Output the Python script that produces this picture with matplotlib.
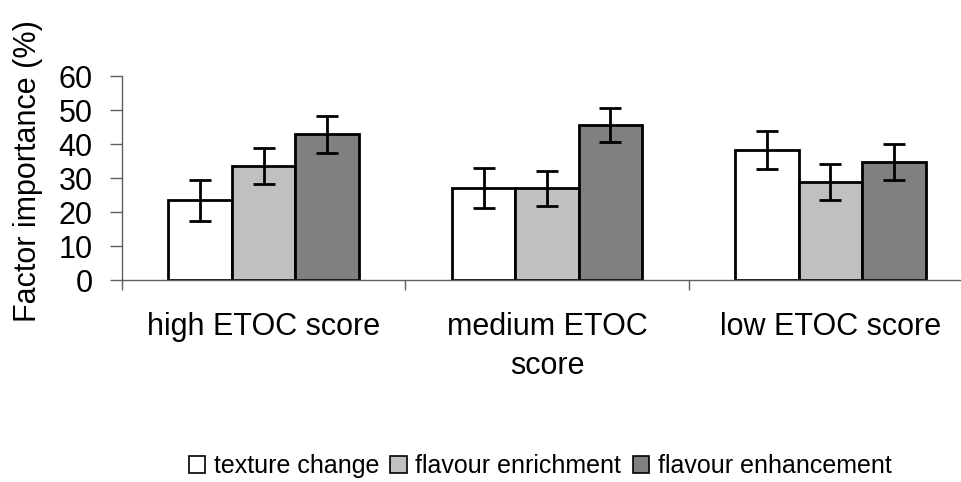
import matplotlib
matplotlib.use("Agg")
import matplotlib.pyplot as plt
import numpy as np
from matplotlib.patches import Patch

plt.rcParams['font.family'] = ['Liberation Sans', 'DejaVu Sans']

categories = ["high ETOC score", "medium ETOC\nscore", "low ETOC score"]
series_names = ["texture change", "flavour enrichment", "flavour enhancement"]
texture = [23.4, 27.0, 38.2]
enrichment = [33.4, 27.0, 28.8]
enhancement = [42.8, 45.7, 34.6]
texture_err = [6.0, 5.9, 5.6]
enrichment_err = [5.3, 5.2, 5.3]
enhancement_err = [5.3, 5.0, 5.3]
colors = ["#FFFFFF", "#C0C0C0", "#808080"]
yticks = [0, 10, 20, 30, 40, 50, 60]

W, H = 961, 482
fig = plt.figure(figsize=(W / 100, H / 100), dpi=100)
ax = fig.add_axes([122 / W, (H - 280) / H, 850 / W, 204 / H])

x = np.arange(len(categories))
bw = 0.224
values = [texture, enrichment, enhancement]
errs = [texture_err, enrichment_err, enhancement_err]
for i, (vals, err, c, name) in enumerate(zip(values, errs, colors, series_names)):
    ax.bar(x + (i - 1) * bw, vals, bw, color=c, edgecolor="black", linewidth=2.0,
           label=name, zorder=2)
    ax.errorbar(x + (i - 1) * bw, vals, yerr=err, fmt="none", ecolor="black",
                elinewidth=2.0, capsize=8, capthick=2.0, zorder=3)

ax.set_xlim(-0.5, 2.5)
ax.set_ylim(0, 60)
ax.set_yticks(yticks)
ax.set_yticklabels([str(v) for v in yticks], fontsize=22)
ax.set_xticks(x)
ax.set_xticklabels(categories, fontsize=22, linespacing=1.4, va="top")
ax.set_xticks([-0.5, 0.5, 1.5, 2.5], minor=True)
ax.tick_params(axis="x", which="major", length=0, pad=23)
ax.tick_params(axis="x", which="minor", length=7.5, width=1, color="#606060", direction="out")
ax.tick_params(axis="y", which="major", length=9, width=1, color="#606060", direction="out", pad=12)

for s in ["top", "right"]:
    ax.spines[s].set_visible(False)
for s in ["left", "bottom"]:
    ax.spines[s].set_color("#606060")
    ax.spines[s].set_linewidth(1)

fig.text(28 / W, 1 - 171 / H, "Factor importance (%)", rotation=90, fontsize=22,
         ha="center", va="center")

handles = [Patch(facecolor=c, edgecolor="black", linewidth=1.2) for c in colors]
fig.legend(handles, series_names, loc="center", bbox_to_anchor=(540 / W, 1 - 466 / H),
           ncol=3, frameon=False, fontsize=18, handlelength=0.65, handleheight=0.65,
           handletextpad=0.35, columnspacing=0.45, borderpad=0, borderaxespad=0)

fig.savefig("out.png", dpi=100)
